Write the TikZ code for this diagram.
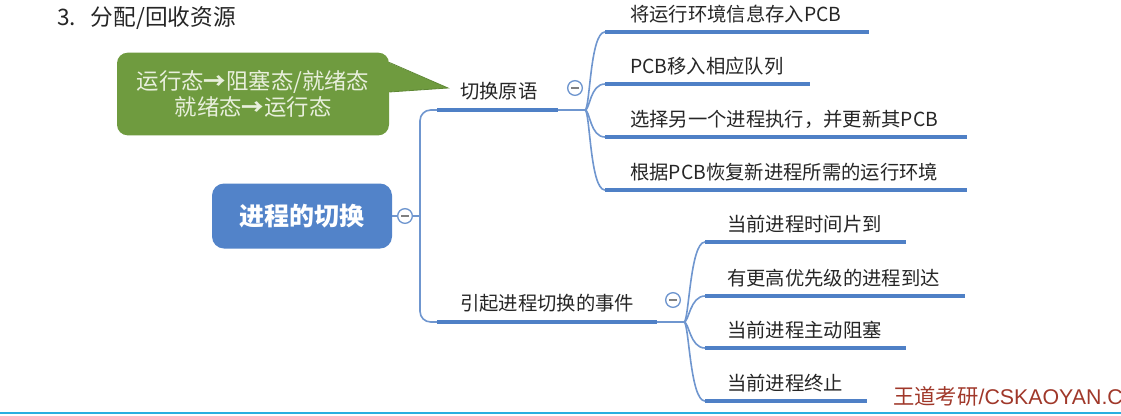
\documentclass[tikz,border=0pt]{standalone}
\usepackage{fontspec}
\setmainfont{Noto Sans CJK SC}
\newfontfamily\latinwm{Liberation Sans}
\usetikzlibrary{calc}
\definecolor{nodeblue}{HTML}{5283C9}
\definecolor{linkblue}{HTML}{6F96CF}
\definecolor{ulblue}{HTML}{4F80C6}
\definecolor{callgreen}{HTML}{6F9B3F}
\definecolor{calledge}{HTML}{5E8834}
\definecolor{calltext}{HTML}{E8EFDC}
\definecolor{txtgray}{HTML}{262626}
\definecolor{wmred}{HTML}{A0382A}
\definecolor{screencyan}{HTML}{2AAFE0}
\newcommand{\boldarr}{{\bfseries →}}
\tikzset{
  link/.style={draw=linkblue, line width=1.2pt},
  uline/.style={draw=ulblue, line width=3.2pt},
  leaf/.style={anchor=base west, inner sep=0pt, text=txtgray, font=\fontsize{14.5pt}{16pt}\selectfont},
  rootbox/.style={fill=nodeblue, rounded corners=9pt, minimum width=135pt, minimum height=48.75pt, text=white, font=\fontsize{18.75pt}{20pt}\selectfont\bfseries},
  callbox/.style={fill=callgreen, rounded corners=8pt, minimum width=204pt, minimum height=62pt, text=calltext, align=center, font=\fontsize{16.8pt}{19.5pt}\selectfont},
  fold/.style={circle, draw=linkblue, line width=1pt, fill=white, minimum size=11pt, inner sep=0pt,
    path picture={\draw[gray, line width=1pt] ($(path picture bounding box.center)+(-3pt,0)$) -- ($(path picture bounding box.center)+(3pt,0)$);}},
}
\begin{document}
\begin{tikzpicture}[x=0.75pt,y=-0.75pt]
\useasboundingbox (0,0) rectangle (1121,415);
\fill[white] (0,0) rectangle (1121,415);

% title
\node[anchor=base west, inner sep=0pt, text=txtgray, font=\fontsize{17pt}{18pt}\selectfont] (title) at (57,25) {3.\hspace{11pt}分配/回收资源};

% callout
\coordinate (tip) at (448,88);
\node[callbox] (call) at (253,94) {运行态\boldarr 阻塞态/就绪态\\就绪态\boldarr 运行态};
\fill[callgreen] ($(call.north east)+(-1,10)$) -- (tip) -- ($(call.east)+(-1,-2)$) -- cycle;
\draw[calledge, line width=0.6pt] ($(call.north east)+(0,10)$) -- (tip) -- ($(call.east)+(0,-2)$);

% root
\node[rootbox] (root) at (302,216) {进程的切换};
\node[fold] (rf) at (405,216) {};
\draw[link] (root.east) -- (rf.west);

% trunk
\coordinate (tk) at (420,216);
\coordinate (b1s) at (437,110);
\coordinate (b2s) at (437,322);
\draw[link] (rf.east) -- (tk);
\draw[link, rounded corners=8pt] (b1s) -| (tk) |- (b2s);

% branch 1
\node[leaf] (b1) at (460,98) {切换原语};
\coordinate (b1e) at (558,110);
\coordinate (j1) at (585,110);
\draw[uline] (b1s) -- (b1e);
\draw[link] (b1e) -- (j1);
\node[fold] (f1) at (575,88) {};

% branch 2
\node[leaf] (b2) at (460,310) {引起进程切换的事件};
\coordinate (b2e) at (657,322);
\coordinate (j2) at (684,322);
\draw[uline] (b2s) -- (b2e);
\draw[link] (b2e) -- (j2);
\node[fold] (f2) at (673,300) {};

% children of branch 1
\foreach \n/\y/\xe/\t in {a1/32/869/将运行环境信息存入PCB, a2/84/810/PCB移入相应队列, a3/137/967/{选择另一个进程执行，并更新其PCB}, a4/190/967/根据PCB恢复新进程所需的运行环境}{
  \coordinate (\n s) at (605,\y);
  \coordinate (\n e) at (\xe,\y);
  \node[leaf] (\n) at (630,\y-11) {\t};
  \draw[link] (j1) .. controls +(5,0) and +(-15,0) .. (\n s);
  \draw[uline] (\n s) -- (\n e);
}

% children of branch 2
\foreach \n/\y/\xe/\t in {e1/242/906/当前进程时间片到, e2/296/965/有更高优先级的进程到达, e3/348/906/当前进程主动阻塞, e4/401/867/当前进程终止}{
  \coordinate (\n s) at (705,\y);
  \coordinate (\n e) at (\xe,\y);
  \node[leaf] (\n) at (727,\y-11) {\t};
  \draw[link] (j2) .. controls +(5,0) and +(-15,0) .. (\n s);
  \draw[uline] (\n s) -- (\n e);
}

% watermark
\node[anchor=base west, inner sep=0pt, text=wmred, font=\fontsize{16pt}{17pt}\selectfont] (wm) at (893,404) {王道考研{\latinwm /CSKAOYAN.C}};

% screen edge
\draw[screencyan, line width=1.5pt] (0,413) -- (1121,413);
\end{tikzpicture}
\end{document}
